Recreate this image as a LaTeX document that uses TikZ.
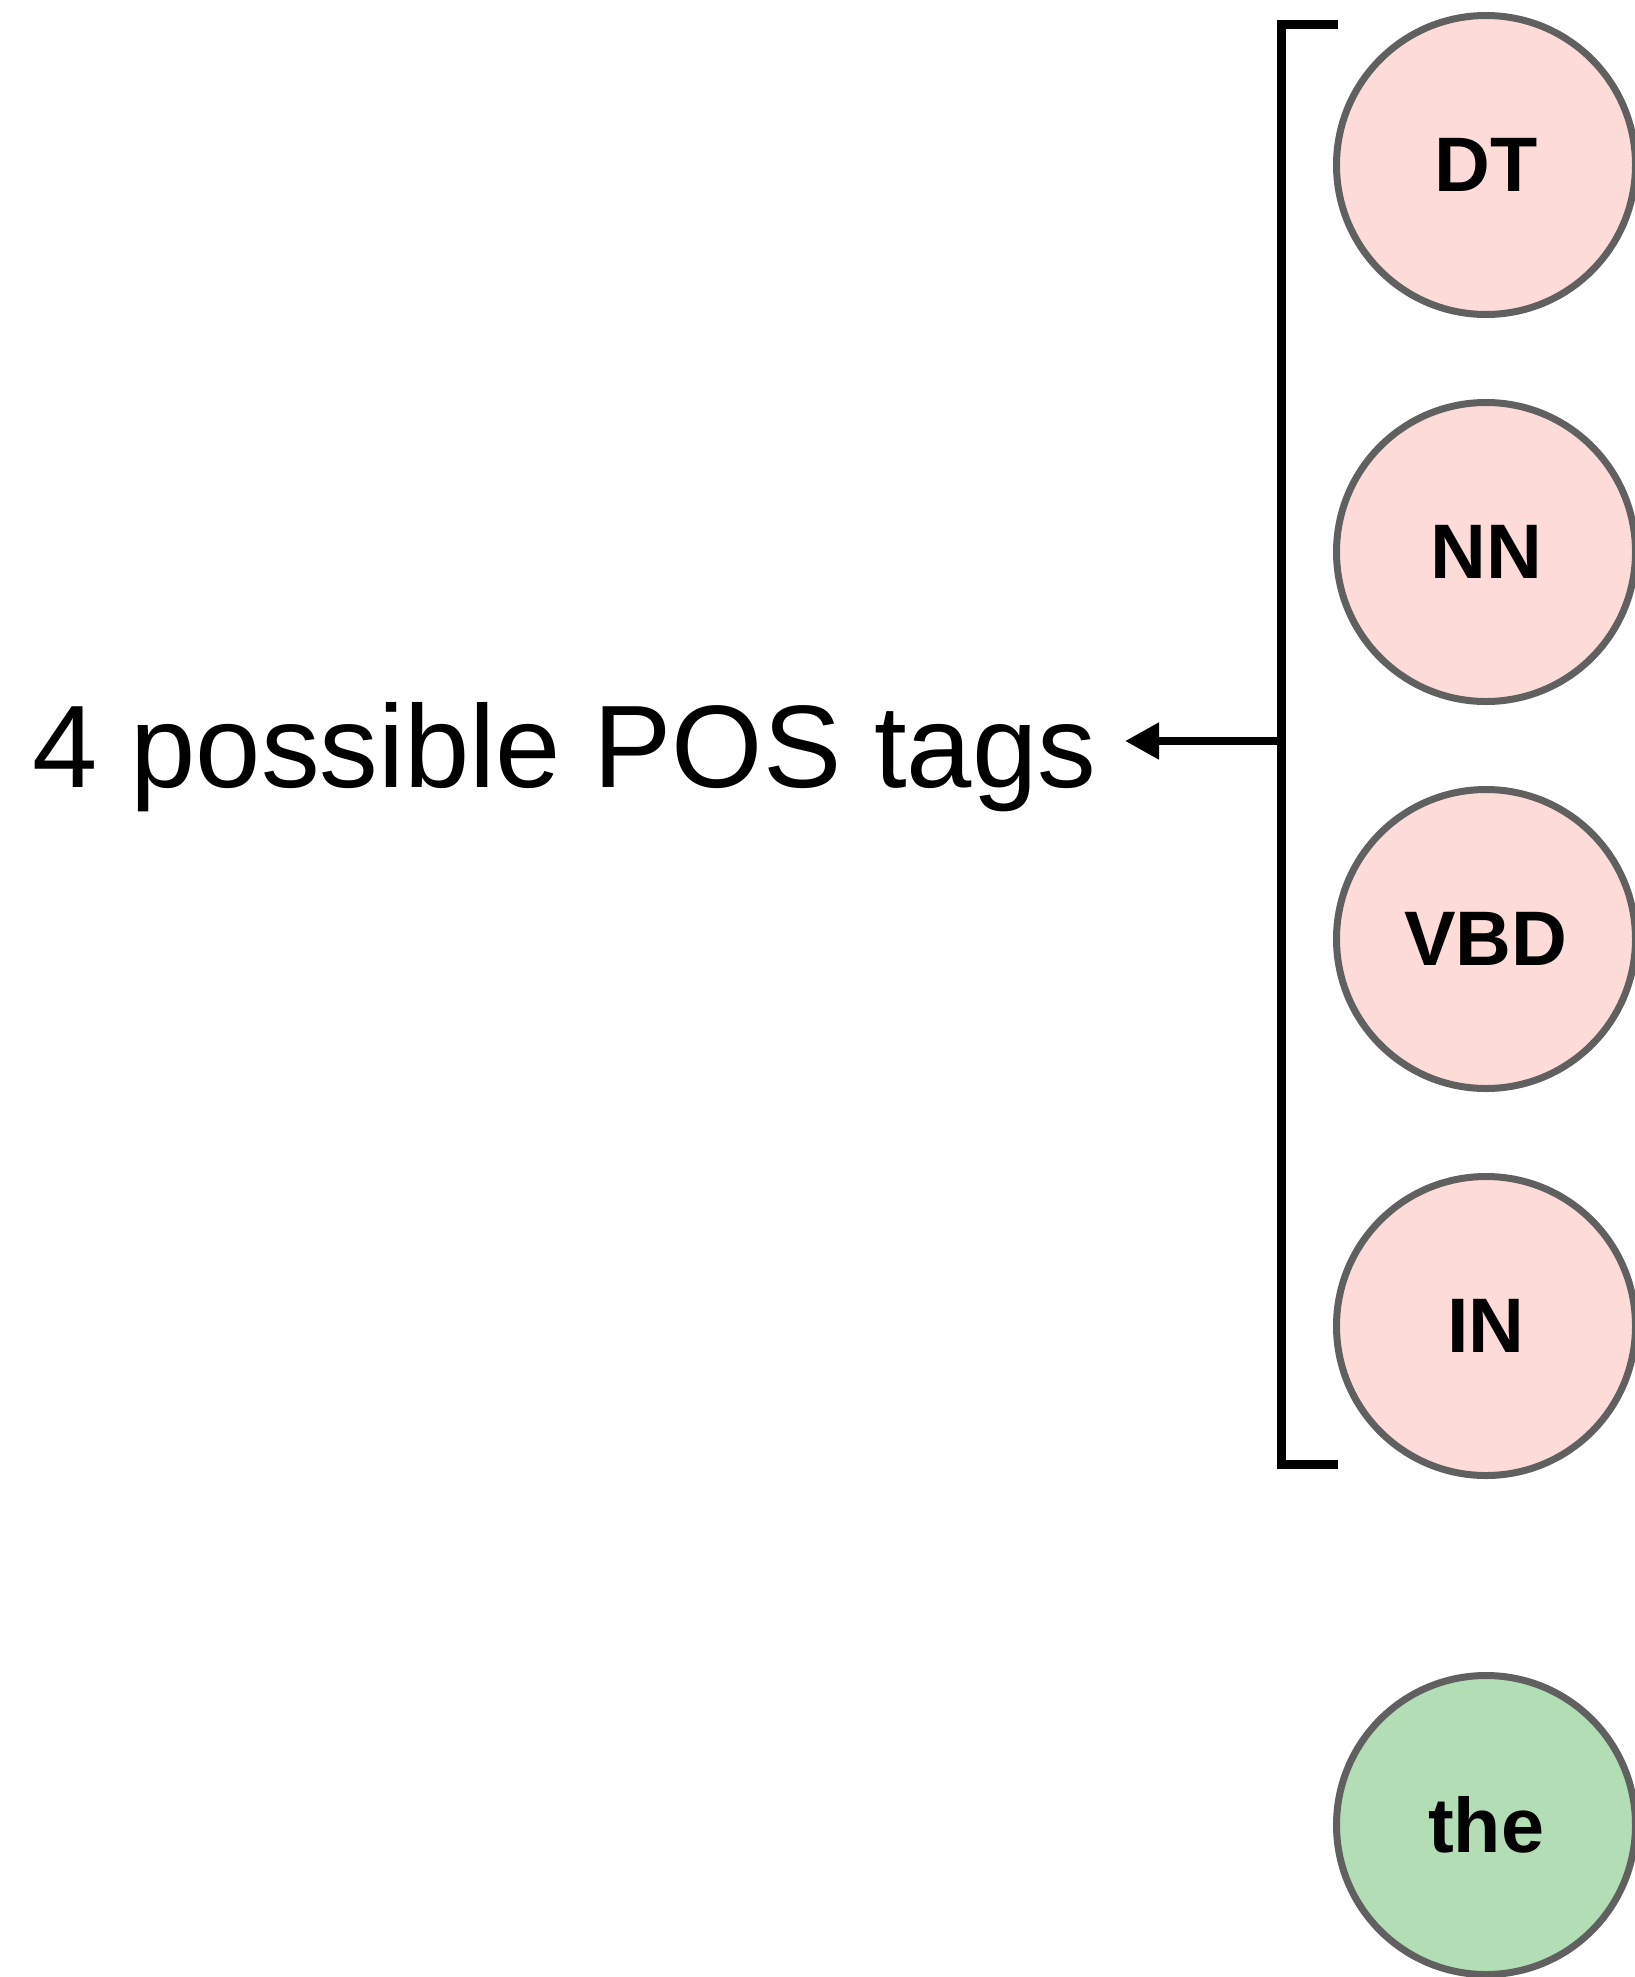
\documentclass[tikz,border=0pt]{standalone}
\usepackage{xcolor}
\usepackage{fontspec}
\setmainfont{Liberation Sans}
\usepackage{tikz}
\usetikzlibrary{positioning, arrows.meta}
\definecolor{tagPink}{HTML}{FDDBD8}
\definecolor{wordGreen}{HTML}{B3DDB4}
\definecolor{ringGray}{HTML}{606060}

\begin{document}
\begin{tikzpicture}[node distance=0.81cm, tag/.style={circle, draw=ringGray, line width=0.07cm, fill=tagPink, minimum size=2.99cm, inner sep=0pt, font=\fontsize{22}{26}\selectfont\bfseries}, word/.style={tag, fill=wordGreen}]
\useasboundingbox (0,0) rectangle (16.35,-19.77);
\node[tag] (dt) at (14.86,-1.65) {DT};
\node[tag, below=of dt] (nn) {NN};
\node[tag, below=of nn] (vbd) {VBD};
\node[tag, below=of vbd] (in) {IN};
\node[word, below=1.93cm of in] (the) {the};
\coordinate (brtop) at (12.81,-0.24);
\coordinate (brbot) at (12.81,-14.64);
\coordinate (brmid) at (12.81,-7.41);
\node[font=\fontsize{33.4}{40}\selectfont, inner sep=0pt, anchor=base west] (postags) at (0.32,-7.87) {4 possible POS tags};
\draw[line width=0.09cm] ([xshift=0.57cm]brtop) -- (brtop) -- (brbot) -- ([xshift=0.57cm]brbot);
\draw[line width=0.08cm, -{Triangle[length=0.34cm,width=0.35cm]}, shorten >=0.28cm] (brmid) -- (postags.east |- brmid);
\end{tikzpicture}
\end{document}
